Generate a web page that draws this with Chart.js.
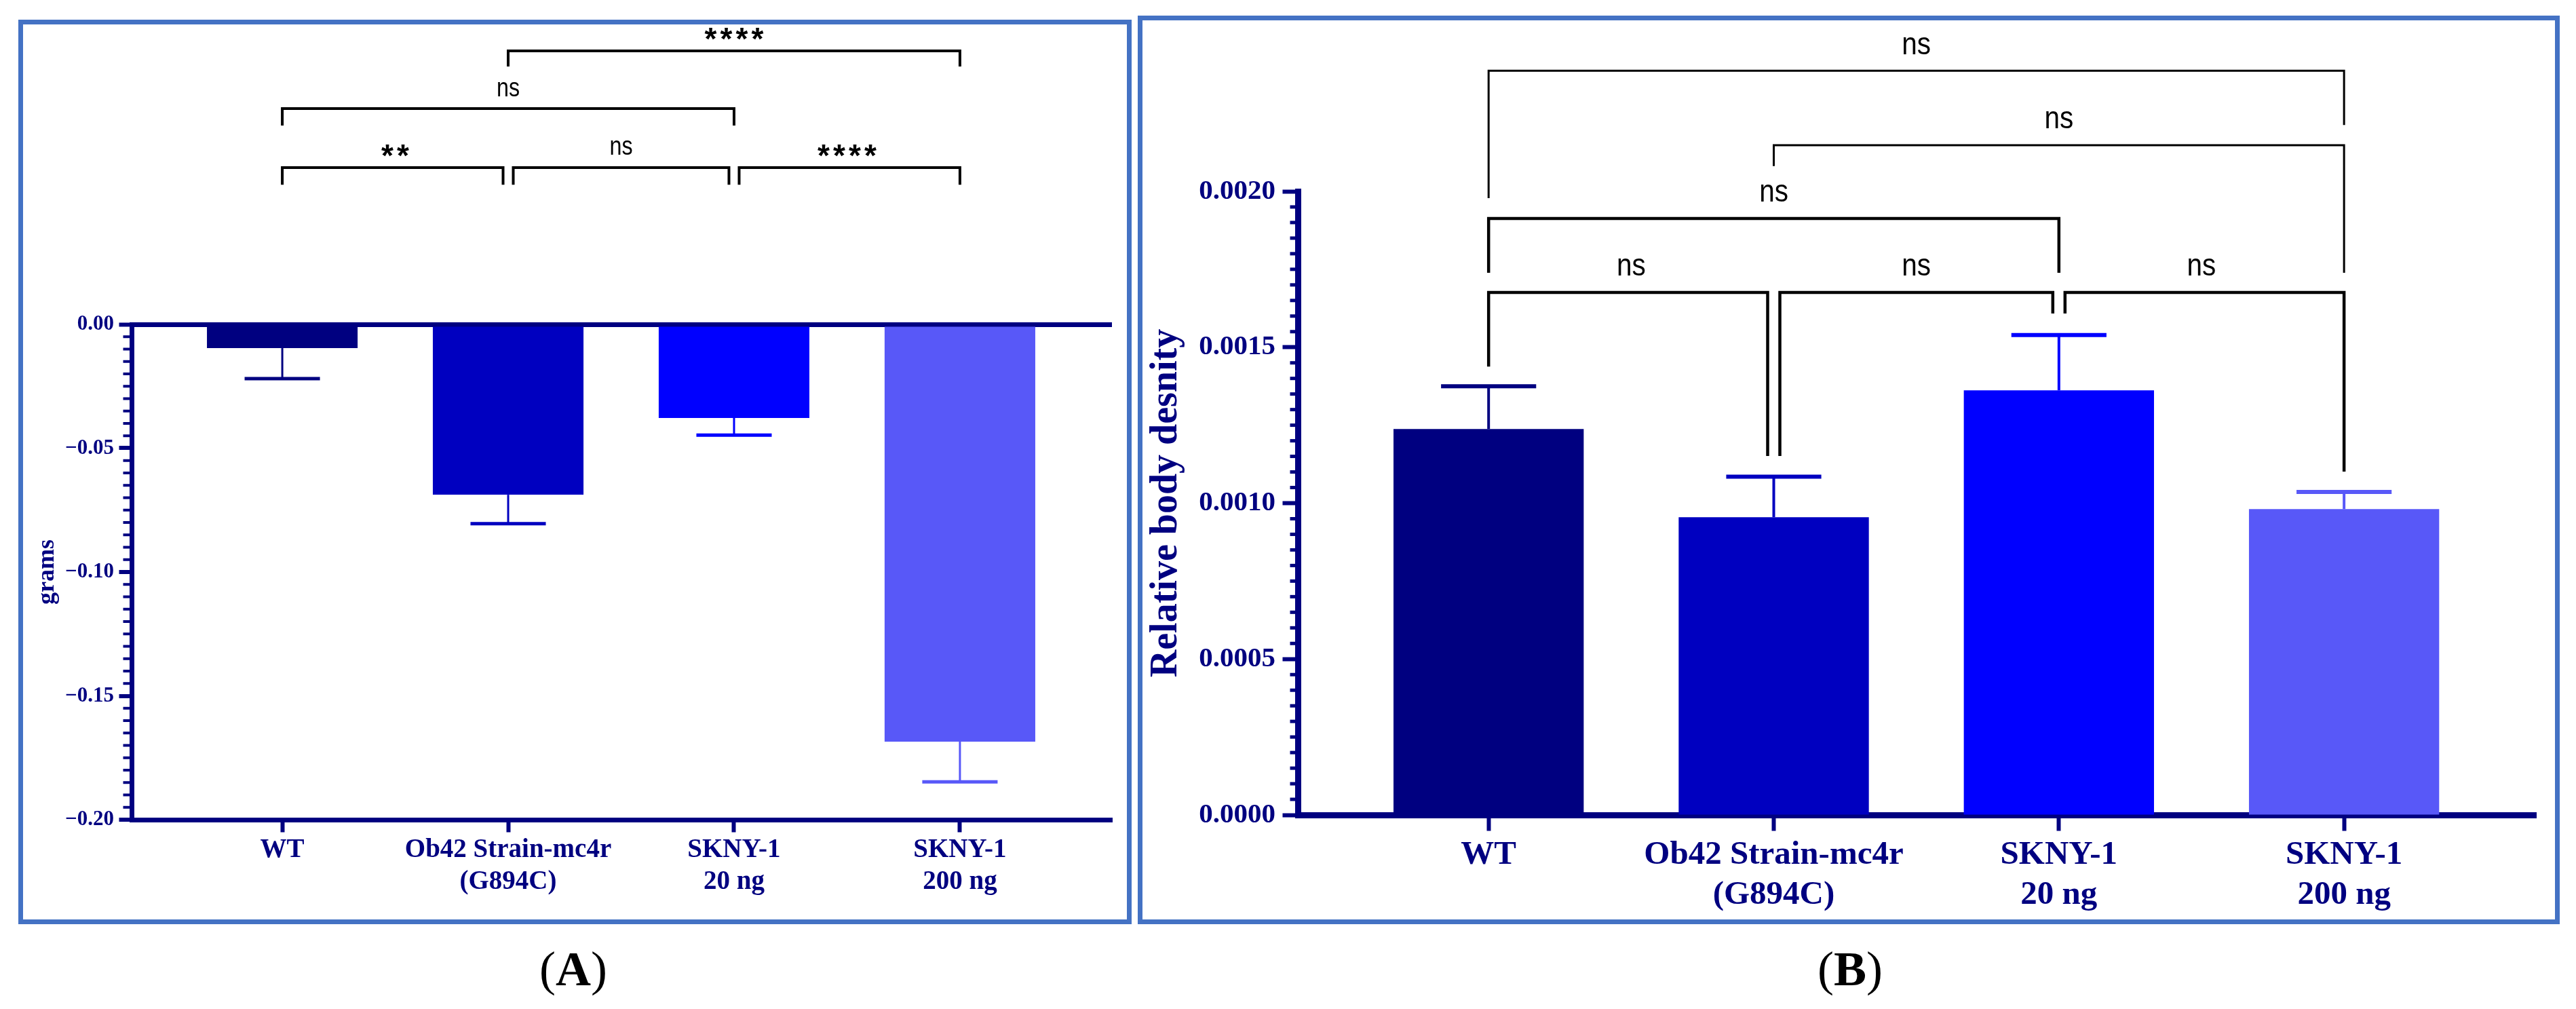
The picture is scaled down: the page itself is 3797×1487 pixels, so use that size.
<!DOCTYPE html>
<html>
<head>
<meta charset="utf-8">
<script src="https://cdn.jsdelivr.net/npm/chart.js@4.4.1/dist/chart.umd.min.js"></script>
<style>
html, body { margin: 0; padding: 0; background: #fff; }
body { width: 3797px; height: 1487px; position: relative; overflow: hidden; font-family: "Liberation Serif", serif; }
.panel { position: absolute; box-sizing: border-box; border: 7px solid #4472C4; }
canvas { position: absolute; }
.tag { position: absolute; font-size: 72px; line-height: 1; transform: translate(-50%, -50%); color: #000; white-space: nowrap; }
</style>
</head>
<body>
<div class="panel" style="left:27px;top:29px;width:1641px;height:1333px"></div>
<div class="panel" style="left:1677px;top:23px;width:2096px;height:1339px"></div>
<canvas id="chartA" width="1627" height="1319" style="left:34px;top:36px"></canvas>
<canvas id="chartB" width="2082" height="1325" style="left:1684px;top:30px"></canvas>
<div class="tag" style="left:845px;top:1428px">(<b>A</b>)</div>
<div class="tag" style="left:2727px;top:1428px">(<b>B</b>)</div>

<script>
// groups, same order in both panels
var categories = ['WT', ['Ob42 Strain-mc4r', '(G894C)'], ['SKNY-1', '20 ng'], ['SKNY-1', '200 ng']];
var barColors = ['#000080', '#0000C0', '#0000FF', '#5858F8'];
var navy = '#000080';

// panel A - weight change (grams), mean and SEM
var weightMean = [-0.0096, -0.0688, -0.0378, -0.1685];
var weightSem = [0.0123, 0.0117, 0.0069, 0.0162];
var weightTickLabels = ['\u22120.20', '\u22120.15', '\u22120.10', '\u22120.05', '0.00'];
var weightPairs = [[0, 1], [1, 2], [2, 3], [0, 2], [1, 3]];
var weightMarks = ['**', 'ns', '****', 'ns', '****'];
var weightBracketLevel = [0.0633, 0.0633, 0.0633, 0.0871, 0.1104];
var weightLegEnd = [[0.0564, 0.0564], [0.0564, 0.0564], [0.0564, 0.0564], [0.0803, 0.0803], [0.1041, 0.1041]];

// panel B - relative body density, mean and SEM
var densityMean = [0.001238, 0.000955, 0.001362, 0.000981];
var densitySem = [0.000137, 0.000130, 0.000177, 0.000055];
var densityTickLabels = ['0.0000', '0.0005', '0.0010', '0.0015', '0.0020'];
var densityPairs = [[0, 1], [1, 2], [2, 3], [0, 2], [1, 3], [0, 3]];
var densityMarks = ['ns', 'ns', 'ns', 'ns', 'ns', 'ns'];
var densityBracketLevel = [0.001676, 0.001676, 0.001676, 0.001913, 0.002148, 0.002387];
var densityLegEnd = [[0.001438, 0.001151], [0.001151, 0.001608], [0.001608, 0.001101], [0.001739, 0.001739], [0.002081, 0.001739], [0.001978, 0.002213]];

function drawMark(ctx, text, cx, cy, st) {
  ctx.save();
  ctx.fillStyle = '#000';
  ctx.textAlign = 'center';
  ctx.textBaseline = 'alphabetic';
  if (text.charAt(0) === '*') {
    ctx.font = st.starFont;
    var m = ctx.measureText('*');
    var mid = (m.actualBoundingBoxAscent - m.actualBoundingBoxDescent) / 2;
    for (var k = 0; k < text.length; k++) {
      ctx.fillText('*', cx + (k - (text.length - 1) / 2) * st.starPitch, cy - st.starLift + mid);
    }
  } else {
    ctx.font = st.nsFont;
    var mm = ctx.measureText(text);
    var mid2 = (mm.actualBoundingBoxAscent - mm.actualBoundingBoxDescent) / 2;
    ctx.translate(cx, cy - st.nsLift + mid2);
    ctx.scale(st.squeeze, 1);
    ctx.fillText(text, 0, 0);
  }
  ctx.restore();
}

function overlay(o) {
  return {
    id: 'overlay',
    afterDatasetsDraw: function (chart) {
      var ctx = chart.ctx, x = chart.scales.x, y = chart.scales.y;
      var bars = chart.getDatasetMeta(0).data;
      ctx.save();
      o.mean.forEach(function (v, i) {
        var cx = x.getPixelForValue(i);
        var y0 = y.getPixelForValue(v);
        var y1 = y.getPixelForValue(v + Math.sign(v) * o.sem[i]);
        var half = bars[i].width / 4;
        ctx.strokeStyle = barColors[i];
        ctx.lineWidth = o.errWidth;
        ctx.beginPath(); ctx.moveTo(cx, y0); ctx.lineTo(cx, y1); ctx.stroke();
        ctx.lineWidth = o.capWidth;
        ctx.beginPath(); ctx.moveTo(cx - half, y1); ctx.lineTo(cx + half, y1); ctx.stroke();
      });
      ctx.restore();
    },
    afterDraw: function (chart) {
      var ctx = chart.ctx, x = chart.scales.x, y = chart.scales.y, area = chart.chartArea;
      ctx.save();
      // minor ticks on the y axis
      ctx.strokeStyle = navy;
      ctx.lineWidth = o.minorWidth;
      var n = Math.round((y.max - y.min) / o.minorStep);
      for (var i = 1; i < n; i++) {
        if (i % o.minorPerMajor === 0) continue;
        var py = y.getPixelForValue(y.min + i * o.minorStep);
        ctx.beginPath(); ctx.moveTo(area.left - o.minorLen, py); ctx.lineTo(area.left, py); ctx.stroke();
      }
      // significance brackets
      ctx.strokeStyle = '#000';
      ctx.lineCap = 'butt';
      ctx.lineJoin = 'miter';
      o.pairs.forEach(function (p, k) {
        var lvl = o.level[k];
        var shareL = o.pairs.some(function (q, j) { return j !== k && o.level[j] === lvl && q[1] === p[0]; });
        var shareR = o.pairs.some(function (q, j) { return j !== k && o.level[j] === lvl && q[0] === p[1]; });
        var xa = x.getPixelForValue(p[0]) + (shareL ? o.gap : 0);
        var xb = x.getPixelForValue(p[1]) - (shareR ? o.gap : 0);
        var yh = y.getPixelForValue(lvl);
        ctx.lineWidth = o.lineWidth[k];
        ctx.beginPath();
        ctx.moveTo(xa, y.getPixelForValue(o.legEnd[k][0]));
        ctx.lineTo(xa, yh);
        ctx.lineTo(xb, yh);
        ctx.lineTo(xb, y.getPixelForValue(o.legEnd[k][1]));
        ctx.stroke();
        drawMark(ctx, o.marks[k], (x.getPixelForValue(p[0]) + x.getPixelForValue(p[1])) / 2, yh, o.text);
      });
      ctx.restore();
    }
  };
}

function serif(size) {
  return { family: 'Liberation Serif', weight: 'bold', size: size, lineHeight: 1.2 };
}

function barData(values) {
  return values.map(function (v, i) { return { x: i, y: v }; });
}

Chart.defaults.font.family = 'Liberation Serif';

new Chart(document.getElementById('chartA'), {
  type: 'bar',
  data: {
    datasets: [{
      data: barData(weightMean),
      backgroundColor: barColors,
      borderWidth: 0,
      barPercentage: 0.667,
      categoryPercentage: 1
    }]
  },
  options: {
    responsive: false,
    animation: false,
    devicePixelRatio: 1,
    layout: { padding: { top: 442, right: 22, left: 0, bottom: 0 } },
    plugins: { legend: { display: false }, tooltip: { enabled: false } },
    scales: {
      x: {
        type: 'linear',
        offset: false,
        min: -0.667,
        max: 3.673,
        afterFit: function (s) { s.height = 147; },
        border: { color: navy, width: 7 },
        grid: { offset: false, drawOnChartArea: false, tickLength: 18.5, tickWidth: 6, tickColor: navy },
        ticks: {
          stepSize: 1, includeBounds: false, autoSkip: false, maxRotation: 0, padding: 3,
          color: navy, font: serif(39),
          callback: function (v) { return categories[v]; }
        }
      },
      y: {
        min: -0.2,
        max: 0,
        afterFit: function (s) { s.width = 160; },
        border: { color: navy, width: 7 },
        grid: {
          color: function (c) { return c.tick && c.tick.value === 0 ? navy : 'rgba(0,0,0,0)'; },
          lineWidth: function (c) { return c.tick && c.tick.value === 0 ? 7 : 0; },
          tickLength: 18.5, tickWidth: 6, tickColor: navy
        },
        ticks: {
          stepSize: 0.05, padding: 7.5, color: navy, font: serif(31),
          callback: function (v, i) { return weightTickLabels[i]; }
        },
        title: { display: true, text: 'grams', color: navy, font: serif(36), padding: { top: 14, bottom: 0 } }
      }
    }
  },
  plugins: [overlay({
    mean: weightMean, sem: weightSem,
    errWidth: 3, capWidth: 5,
    minorStep: 0.005, minorPerMajor: 10, minorLen: 12.5, minorWidth: 4,
    pairs: weightPairs, marks: weightMarks, level: weightBracketLevel, legEnd: weightLegEnd,
    lineWidth: [4, 4, 4, 4, 4], gap: 7.5,
    text: { nsFont: '38px "Liberation Sans"', squeeze: 0.85, nsLift: 29, starFont: 'bold 46px "Liberation Sans"', starPitch: 23, starLift: 25 }
  })]
});

new Chart(document.getElementById('chartB'), {
  type: 'bar',
  data: {
    datasets: [{
      data: barData(densityMean),
      backgroundColor: barColors,
      borderWidth: 0,
      barPercentage: 0.667,
      categoryPercentage: 1
    }]
  },
  options: {
    responsive: false,
    animation: false,
    devicePixelRatio: 1,
    layout: { padding: { top: 252, right: 28, left: 0, bottom: 0 } },
    plugins: { legend: { display: false }, tooltip: { enabled: false } },
    scales: {
      x: {
        type: 'linear',
        offset: false,
        min: -0.669,
        max: 3.673,
        afterFit: function (s) { s.height = 154; },
        border: { color: navy, width: 9 },
        grid: { offset: false, drawOnChartArea: false, tickLength: 23.5, tickWidth: 6, tickColor: navy },
        ticks: {
          stepSize: 1, includeBounds: false, autoSkip: false, maxRotation: 0, padding: 6.5,
          color: navy, font: serif(49),
          callback: function (v) { return categories[v]; }
        }
      },
      y: {
        min: 0,
        max: 0.002,
        afterFit: function (s) { s.width = 229; },
        border: { color: navy, width: 9 },
        grid: { drawOnChartArea: false, tickLength: 22.5, tickWidth: 6, tickColor: navy },
        ticks: {
          stepSize: 0.0005, padding: 10.5, color: navy, font: serif(41),
          callback: function (v, i) { return densityTickLabels[i]; }
        },
        title: { display: true, text: 'Relative body desnity', color: navy, font: serif(56), padding: { top: 2, bottom: 0 } }
      }
    }
  },
  plugins: [overlay({
    mean: densityMean, sem: densitySem,
    errWidth: 4, capWidth: 6,
    minorStep: 0.00005, minorPerMajor: 10, minorLen: 11.5, minorWidth: 5,
    pairs: densityPairs, marks: densityMarks, level: densityBracketLevel, legEnd: densityLegEnd,
    lineWidth: [4.5, 4.5, 4.5, 4.5, 3, 3], gap: 9,
    text: { nsFont: '46px "Liberation Sans"', squeeze: 0.88, nsLift: 37, starFont: 'bold 56px "Liberation Sans"', starPitch: 28, starLift: 30 }
  })]
});
</script>
</body>
</html>
